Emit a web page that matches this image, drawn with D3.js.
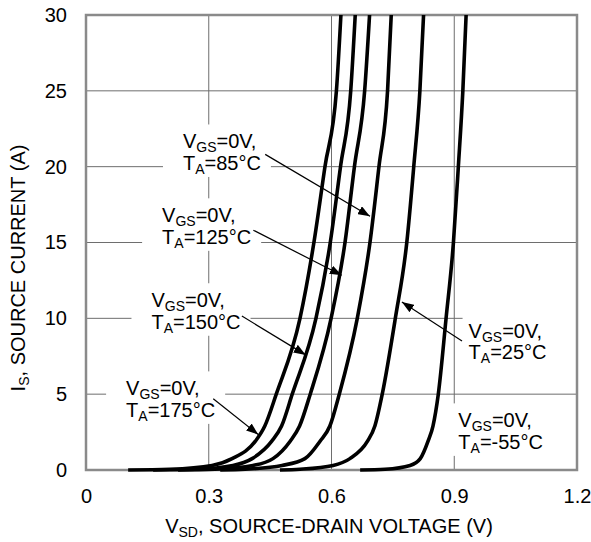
<!DOCTYPE html>
<html>
<head>
<meta charset="utf-8">
<style>
    body {
        margin: 0;
        background: #fff;
    }

    svg {
        display: block;
        font-family: Arial, "Liberation Sans", Helvetica, sans-serif;
    }

    .grid line {
        stroke: #6e6e6e;
        stroke-width: 1;
    }

    .axis text {
        font-size: 20px;
        fill: #000;
    }
</style>
</head>
<body>
<svg width="591" height="542"></svg>

<script src="https://d3js.org/d3.v7.min.js"></script>
<script>
    // values: source current (A) and the voltage (V) of each curve at that current
    let current = [0, 0.05, 0.3, 0.75, 1.9, 2.9, 5, 10, 15, 20, 25, 30]
    let v175 = [0.103, 0.205, 0.308, 0.357, 0.414, 0.437, 0.465, 0.523, 0.557, 0.584, 0.612, 0.623]
    let v150 = [0.164, 0.267, 0.359, 0.406, 0.454, 0.478, 0.504, 0.562, 0.597, 0.622, 0.647, 0.658]
    let v125 = [0.225, 0.315, 0.408, 0.457, 0.499, 0.522, 0.548, 0.599, 0.633, 0.656, 0.681, 0.693]
    let v85 = [0.328, 0.389, 0.479, 0.535, 0.572, 0.596, 0.619, 0.663, 0.694, 0.716, 0.737, 0.746]
    let v25 = [0.474, 0.523, 0.604, 0.645, 0.688, 0.706, 0.724, 0.756, 0.784, 0.801, 0.816, 0.825]
    let vm55 = [0.670, 0.731, 0.792, 0.817, 0.836, 0.848, 0.861, 0.880, 0.898, 0.910, 0.921, 0.929]
    let curves = [v175, v150, v125, v85, v25, vm55]

    let xTicks = [0, 0.3, 0.6, 0.9, 1.2]
    let xTickLabels = ["0", "0.3", "0.6", "0.9", "1.2"]
    let yTicks = [0, 5, 10, 15, 20, 25, 30]

    // callouts: temperature, text anchor (V, A), arrow start and tip (V, A)
    let labelTemps = ["85°C", "125°C", "150°C", "175°C", "25°C", "-55°C"]
    let labelAt = [[0.237, 21.2], [0.186, 16.33], [0.160, 10.73], [0.098, 4.92], [0.935, 8.71], [0.910, 2.81]]
    let arrowFrom = [[0.438, 20.81], [0.409, 15.81], [0.381, 10.15], [0.311, 4.70], [0.919, 8.50], null]
    let arrowTo = [[0.694, 16.73], [0.625, 12.84], [0.537, 7.59], [0.421, 2.34], [0.772, 11.08], null]

    let svg = d3.select("svg")

    let x = d3.scaleLinear().domain([0, 1.2]).range([86, 577])
    let y = d3.scaleLinear().domain([0, 30]).range([470, 15])

    // grid
    let grid = svg.append("g").attr("class", "grid")
    grid.selectAll(".gx")
        .data(xTicks.slice(1, -1))
        .join("line")
        .attr("x1", d => x(d)).attr("x2", d => x(d))
        .attr("y1", y(0)).attr("y2", y(30))
    grid.selectAll(".gy")
        .data(yTicks.slice(1, -1))
        .join("line")
        .attr("x1", x(0)).attr("x2", x(1.2))
        .attr("y1", d => y(d)).attr("y2", d => y(d))

    // white boxes behind the callouts, filled in after the text is measured
    let boxLayer = svg.append("g")

    // frame
    svg.append("rect")
        .attr("x", x(0)).attr("y", y(30))
        .attr("width", x(1.2) - x(0)).attr("height", y(0) - y(30))
        .style("fill", "none")
        .style("stroke", "#8a8a8a")
        .style("stroke-width", 2.5)

    // axes
    svg.append("g")
        .attr("class", "axis")
        .attr("transform", "translate(0," + y(0) + ")")
        .call(d3.axisBottom(x).tickValues(xTicks).tickFormat((d, i) => xTickLabels[i]).tickSize(0).tickPadding(19))
        .call(g => g.select(".domain").remove())

    svg.append("g")
        .attr("class", "axis")
        .attr("transform", "translate(" + x(0) + ",0)")
        .call(d3.axisLeft(y).tickValues(yTicks).tickSize(0).tickPadding(19))
        .call(g => g.select(".domain").remove())

    svg.selectAll(".axis text").style("font-family", null)

    // curves
    let line = d3.line()
        .x(d => x(d[0]))
        .y(d => y(d[1]))
        .curve(d3.curveMonotoneX)

    svg.append("g")
        .selectAll("path")
        .data(curves.map(vs => vs.map((v, i) => [v, current[i]])))
        .join("path")
        .attr("d", line)
        .style("fill", "none")
        .style("stroke", "#000")
        .style("stroke-width", 3.6)
        .style("stroke-linejoin", "round")

    // arrow head
    svg.append("defs").append("marker")
        .attr("id", "head")
        .attr("markerUnits", "userSpaceOnUse")
        .attr("markerWidth", 13).attr("markerHeight", 9)
        .attr("refX", 12).attr("refY", 4.5)
        .attr("orient", "auto")
        .append("path")
        .attr("d", "M0,0 L12,4.5 L0,9 Z")
        .style("fill", "#000")

    labelTemps.forEach((t, i) => {
        let lx = x(labelAt[i][0])
        let ly = y(labelAt[i][1])

        // both lines in one text element
        let txt = svg.append("text").attr("x", lx).attr("y", ly).style("font-size", "20px")
        txt.append("tspan").text("V")
        txt.append("tspan").attr("dy", 4).style("font-size", "14px").text("GS")
        txt.append("tspan").attr("dy", -4).text("=0V,")
        txt.append("tspan").attr("x", lx).attr("dy", 21.5).text("T")
        txt.append("tspan").attr("dy", 4).style("font-size", "14px").text("A")
        txt.append("tspan").attr("dy", -4).text("=" + t)

        let b = txt.node().getBBox()
        let right = lx > 400
        let padL = right ? 6 : 20
        let padR = right ? 40 : 10
        boxLayer.append("rect")
            .attr("x", b.x - padL)
            .attr("y", b.y - 6)
            .attr("width", Math.min(b.width + padL + padR, x(1.2) - b.x + padL))
            .attr("height", b.height + 6)
            .style("fill", "#fff")

        if (arrowFrom[i]) {
            svg.append("line")
                .attr("x1", x(arrowFrom[i][0])).attr("y1", y(arrowFrom[i][1]))
                .attr("x2", x(arrowTo[i][0])).attr("y2", y(arrowTo[i][1]))
                .style("stroke", "#000")
                .style("stroke-width", 1.2)
                .attr("marker-end", "url(#head)")
        }
    })

    // axis titles
    let xt = svg.append("text")
        .attr("x", 329).attr("y", 533)
        .attr("text-anchor", "middle")
        .style("font-size", "20px")
    xt.append("tspan").text("V")
    xt.append("tspan").attr("dy", 4).style("font-size", "14px").text("SD")
    xt.append("tspan").attr("dy", -4).text(", SOURCE-DRAIN VOLTAGE (V)")

    let yt = svg.append("text")
        .attr("transform", "translate(25,268) rotate(-90)")
        .attr("text-anchor", "middle")
        .style("font-size", "20px")
    yt.append("tspan").text("I")
    yt.append("tspan").attr("dy", 4).style("font-size", "14px").text("S")
    yt.append("tspan").attr("dy", -4).text(", SOURCE CURRENT (A)")
</script>
</body>
</html>
